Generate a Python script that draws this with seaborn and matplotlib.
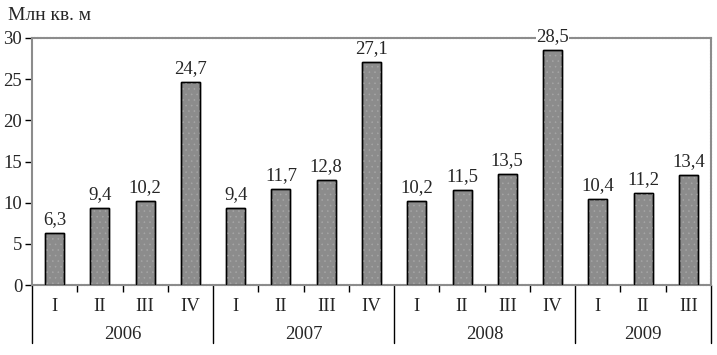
import pandas as pd
import matplotlib.pyplot as plt
import matplotlib.transforms as mtransforms
import seaborn as sns

# Data
years = ["2006", "2007", "2008", "2009"]
quarters = ["I", "II", "III", "IV"]
year_of_bar = ["2006"] * 4 + ["2007"] * 4 + ["2008"] * 4 + ["2009"] * 3
quarter_of_bar = ["I", "II", "III", "IV"] * 3 + ["I", "II", "III"]
values = [6.3, 9.4, 10.2, 24.7, 9.4, 11.7, 12.8, 27.1, 10.2, 11.5, 13.5, 28.5, 10.4, 11.2, 13.4]

df = pd.DataFrame({"year": year_of_bar, "quarter": quarter_of_bar, "value": values})
df["key"] = df["year"] + " " + df["quarter"]

sns.set_style("white")
plt.rcParams["font.family"] = ["Liberation Serif", "DejaVu Serif"]
plt.rcParams["hatch.linewidth"] = 0.4

fig, ax = plt.subplots(figsize=(7.17, 3.55), dpi=100)
fig.subplots_adjust(left=0.0446, right=0.9916, top=0.893, bottom=0.197)

sns.barplot(data=df, x="key", y="value", order=list(df["key"]), color="#8c8c8c",
            saturation=1, width=0.42, edgecolor="black", linewidth=1.0, ax=ax)
# dotted texture on the bars, then the outline again on top
for p in list(ax.patches):
    cx = p.get_x() + p.get_width() / 2
    ax.bar(cx, p.get_height(), width=p.get_width(), facecolor="none",
           edgecolor="#a6a6a6", hatch="...", linewidth=0, zorder=3)
    ax.bar(cx, p.get_height(), width=p.get_width(), facecolor="none",
           edgecolor="black", linewidth=1.0, zorder=4)

n = len(values)
ax.set_xlim(-0.5, n - 0.5)
ax.set_ylim(0, 30)
ax.set_yticks(range(0, 31, 5))
ax.tick_params(axis="y", left=True, length=5, width=1, color="black", labelsize=13.5, pad=2)

ax.set_xticks(range(n))
ax.set_xticklabels(quarter_of_bar, fontsize=13.5)
ax.tick_params(axis="x", bottom=False, length=0, pad=9)
# small ticks between quarters
minor = [i + 0.5 for i in range(n - 1) if (i + 1) % 4 != 0]
ax.set_xticks(minor, minor=True)
ax.tick_params(axis="x", which="minor", bottom=True, length=5, width=1, color="black")

for s in ["top", "right", "bottom"]:
    ax.spines[s].set_color("#8c8c8c")
    ax.spines[s].set_linestyle((0, (1, 0.5)))
    ax.spines[s].set_linewidth(1.5)
ax.spines["left"].set_color("#8c8c8c")
ax.spines["left"].set_linewidth(1.5)

# value labels
for i, v in enumerate(values):
    ax.text(i, v + 0.6, f"{v:.1f}".replace(".", ","), ha="center", va="bottom",
            fontsize=13.5, bbox=dict(facecolor="white", edgecolor="none", pad=0),
            zorder=5, clip_on=False)

# year grouping lines and labels
trans = mtransforms.blended_transform_factory(ax.transData, ax.transAxes)
bounds = [-0.5, 3.5, 7.5, 11.5, n - 0.5]
for b in bounds:
    ax.plot([b, b], [0, -0.235], color="black", lw=1, transform=trans, clip_on=False)
for k, y in enumerate(years):
    ax.text((bounds[k] + bounds[k + 1]) / 2, -0.2, y, ha="center", va="center",
            fontsize=13.5, transform=trans)

ax.set_xlabel("")
ax.set_ylabel("")
fig.text(8 / 717, 1 - 15 / 355, "Млн кв. м", ha="left", va="center", fontsize=14)

fig.savefig("out.png", dpi=100)
